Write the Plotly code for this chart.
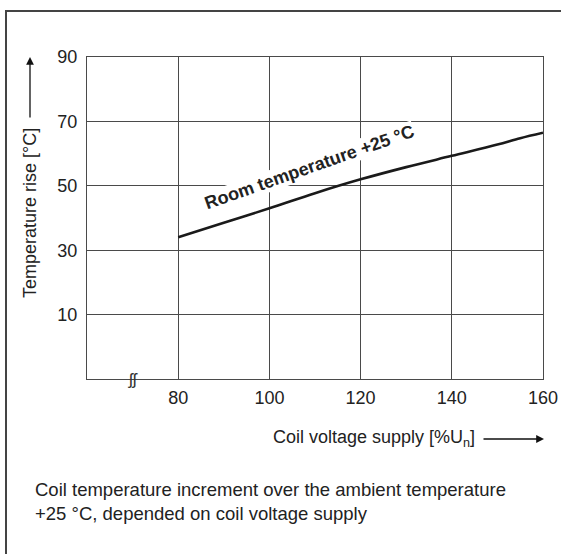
import plotly.graph_objects as go

# Data
voltage_pct = [80, 90, 100, 110, 120, 130, 140, 150, 155, 160]
temp_rise = [34.0, 38.5, 43.0, 47.7, 52.0, 55.8, 59.3, 62.8, 64.8, 66.5]
x_ticks = [80, 100, 120, 140, 160]
y_ticks = [10, 30, 50, 70, 90]
curve_label = "Room temperature +25 °C"
x_title = "Coil voltage supply [%U<sub>n</sub>]"
y_title = "Temperature rise [°C]"
caption = ("Coil temperature increment over the ambient temperature<br>"
           "+25 °C, depended on coil voltage supply")

W, H = 561, 554
ML, MR, MT, MB = 87, 18, 57, 175
pw, ph = W - ML - MR, H - MT - MB


def px_x(px):
    return (px - ML) / pw


def px_y(py):
    return (H - MB - py) / ph


FONT = "Liberation Sans, Arial, sans-serif"
GRID = "#4a4a4a"
TXT = "#222"

fig = go.Figure()
fig.add_trace(go.Scatter(x=voltage_pct, y=temp_rise, mode="lines",
                         line=dict(color="#1a1a1a", width=2.6, shape="spline"),
                         hoverinfo="skip", showlegend=False))

fig.update_layout(
    width=W, height=H,
    margin=dict(l=ML, r=MR, t=MT, b=MB, autoexpand=False),
    paper_bgcolor="white", plot_bgcolor="white",
    font=dict(family=FONT, size=18, color=TXT),
    xaxis=dict(range=[60, 160], tickvals=x_ticks, showgrid=True, gridcolor=GRID,
               gridwidth=1, showline=True, linecolor=GRID, linewidth=1, mirror=True,
               ticks="outside", ticklen=2, tickcolor="rgba(0,0,0,0)", automargin=False,
               zeroline=False, tickfont=dict(size=18, color=TXT)),
    yaxis=dict(range=[-10, 90], tickvals=y_ticks, showgrid=True, gridcolor=GRID,
               gridwidth=1, showline=True, linecolor=GRID, linewidth=1, mirror=True,
               ticks="outside", ticklen=5, tickcolor="rgba(0,0,0,0)", automargin=False,
               zeroline=False, tickfont=dict(size=18, color=TXT)),
)

# outer frame
fig.add_shape(type="rect", xref="paper", yref="paper",
              x0=px_x(6), x1=px_x(600), y0=px_y(11), y1=px_y(600),
              line=dict(color="#444", width=2), fillcolor="rgba(0,0,0,0)", layer="below")

anns = []
# curve label
anns.append(dict(x=108.9, y=55.8, xref="x", yref="y", text="<b>" + curve_label + "</b>",
                 textangle=-19.4, showarrow=False, font=dict(size=18, color=TXT),
                 xanchor="center", yanchor="middle", bgcolor="white", borderpad=0))
# axis break marker
anns.append(dict(x=70, y=-10, xref="x", yref="y", text="ʃʃ", showarrow=False,
                 xanchor="center", yanchor="middle", font=dict(size=17, color="#333")))
# x title + arrow
anns.append(dict(x=px_x(477), y=px_y(439), xref="paper", yref="paper", text=x_title,
                 xanchor="right", yanchor="middle", showarrow=False,
                 font=dict(size=18, color=TXT)))
anns.append(dict(x=px_x(544), y=px_y(439), xref="paper", yref="paper", text="",
                 showarrow=True, ax=-62, ay=0, arrowhead=2, arrowsize=1.2,
                 arrowwidth=1.3, arrowcolor="#111"))
# y title + arrow
anns.append(dict(x=px_x(30), y=px_y(213), xref="paper", yref="paper", text=y_title,
                 textangle=-90, xanchor="center", yanchor="middle", showarrow=False,
                 font=dict(size=18, color=TXT)))
anns.append(dict(x=px_x(30), y=px_y(57), xref="paper", yref="paper", text="",
                 showarrow=True, ax=0, ay=62, arrowhead=2, arrowsize=1.2,
                 arrowwidth=1.3, arrowcolor="#111"))
# caption
anns.append(dict(x=px_x(33), y=px_y(501), xref="paper", yref="paper", text=caption,
                 xanchor="left", yanchor="middle", align="left", showarrow=False,
                 font=dict(size=18.5, color=TXT)))
fig.update_layout(annotations=anns)

fig.write_html("out.html", config={"displayModeBar": False},
               post_script="document.body.style.margin='0';document.body.style.overflow='hidden';")
